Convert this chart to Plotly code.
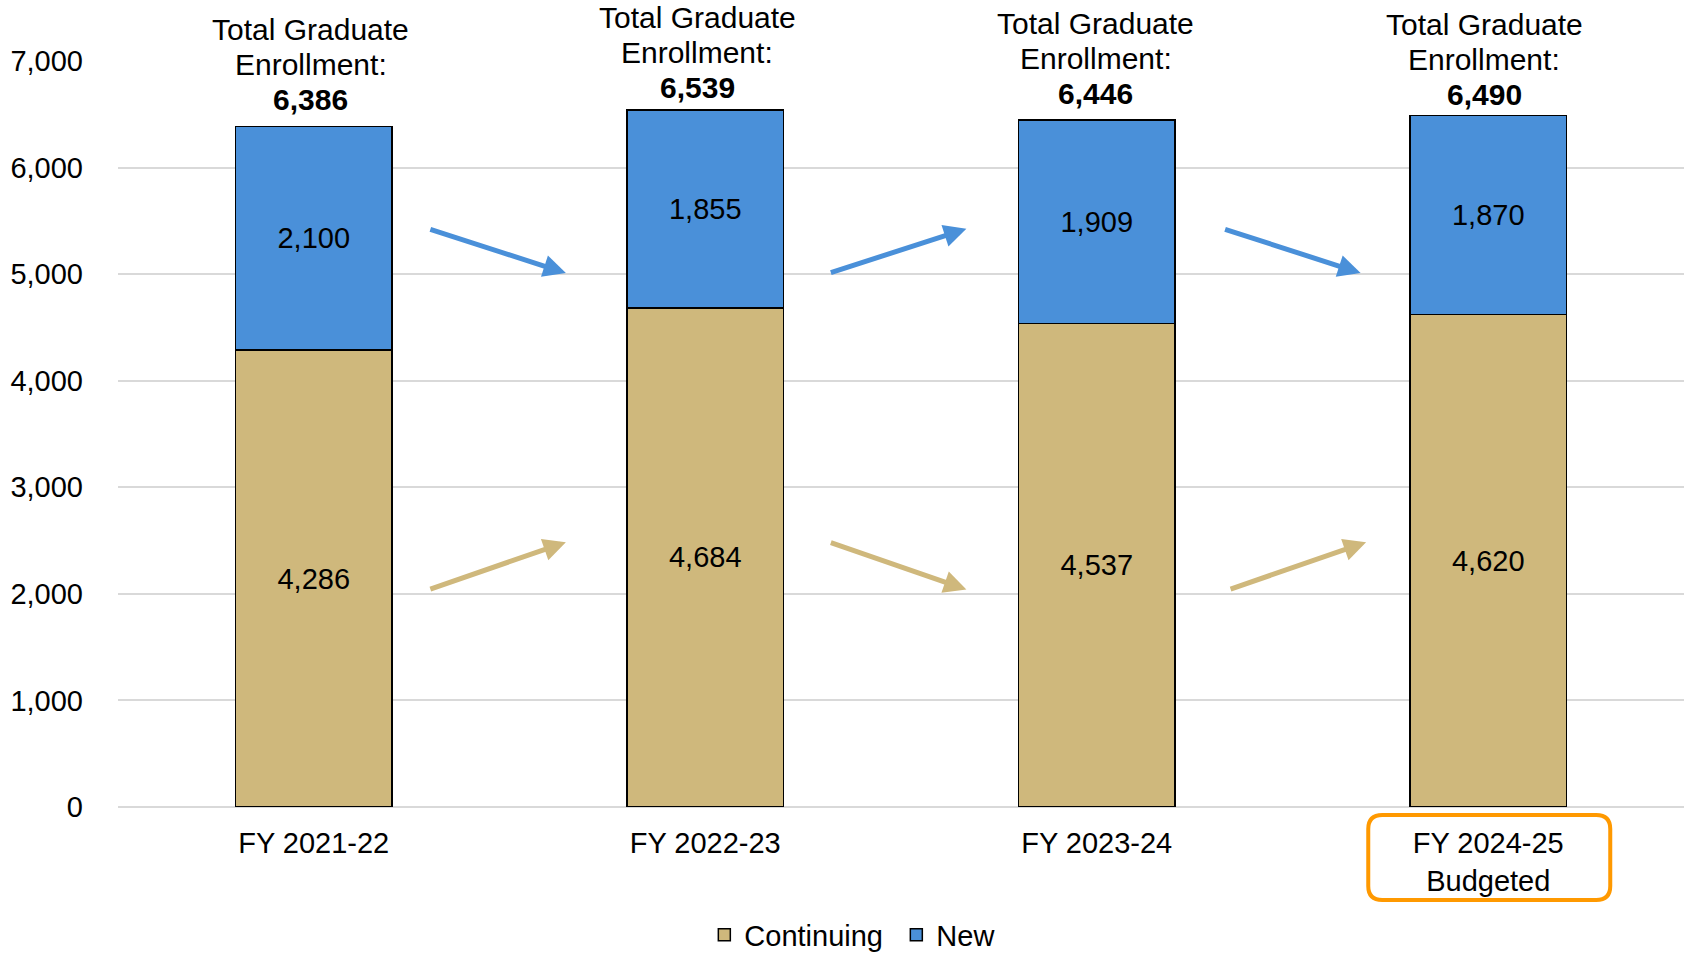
import plotly.graph_objects as go

# Graduate enrollment by fiscal year
categories = ["FY 2021-22", "FY 2022-23", "FY 2023-24", "FY 2024-25<br>Budgeted"]
continuing = [4286, 4684, 4537, 4620]
new = [2100, 1855, 1909, 1870]
totals = [c + n for c, n in zip(continuing, new)]
y_ticks = [0, 1000, 2000, 3000, 4000, 5000, 6000, 7000]

GOLD = "#CFB87C"
BLUE = "#4A90D9"
ORANGE = "#FF9900"
FONT = "Liberation Sans, Arial, Helvetica, sans-serif"
FS = 29      # tick, legend and in-bar labels
FS_TOT = 30  # total labels above the bars

xpos = list(range(len(categories)))

fig = go.Figure()
fig.add_trace(go.Bar(
    name="Continuing", x=xpos, y=continuing, width=0.4,
    marker=dict(color=GOLD, line=dict(color="#000000", width=1.5)),
    text=[f"{v:,}" for v in continuing], textposition="inside",
    insidetextanchor="middle", constraintext="none",
    textfont=dict(size=FS, color="#000000", family=FONT),
))
fig.add_trace(go.Bar(
    name="New", x=xpos, y=new, width=0.4,
    marker=dict(color=BLUE, line=dict(color="#000000", width=1.5)),
    text=[f"{v:,}" for v in new], textposition="inside",
    insidetextanchor="middle", constraintext="none",
    textfont=dict(size=FS, color="#000000", family=FONT),
))

annotations = []
# total labels above each stacked bar, one line at a time for tight spacing
LINE_STEP = 35
label_lift = [27, 23, 27, 21]   # gap between bar top and the bold total
label_nudge = [-3, -8, -1, -4]  # horizontal nudge of each label block
for i, t in enumerate(totals):
    lines = ["Total Graduate", "Enrollment:", f"<b>{t:,}</b>"]
    for k, text in enumerate(lines):
        annotations.append(dict(
            x=i, y=t, xref="x", yref="y", yanchor="middle",
            yshift=label_lift[i] + LINE_STEP * (2 - k), xshift=label_nudge[i],
            text=text, showarrow=False,
            font=dict(size=FS_TOT, color="#000000", family=FONT),
        ))

# trend arrows between neighbouring bars (direction follows the change)
ARROW_LEN = 0.35
arrow_specs = [
    (new, BLUE, (5010, 5425), [0.294, 0.317, 0.324]),
    (continuing, GOLD, (2040, 2485), [0.294, 0.317, 0.338]),
]
for series, color, (lo, hi), starts in arrow_specs:
    for i in range(len(series) - 1):
        rising = series[i + 1] > series[i]
        y_tail, y_head = (lo, hi) if rising else (hi, lo)
        x_tail = i + starts[i]
        annotations.append(dict(
            x=x_tail + ARROW_LEN, y=y_head, ax=x_tail, ay=y_tail,
            xref="x", yref="y", axref="x", ayref="y",
            text="", showarrow=True, arrowhead=2, arrowsize=0.9,
            arrowwidth=5, arrowcolor=color, standoff=0,
        ))

# rounded outline around the budgeted year label
x0, x1, yt, yb, r = -120, 122, -8, -93, 14
box_path = (
    f"M{x0 + r},{yt} L{x1 - r},{yt} Q{x1},{yt} {x1},{yt - r} "
    f"L{x1},{yb + r} Q{x1},{yb} {x1 - r},{yb} "
    f"L{x0 + r},{yb} Q{x0},{yb} {x0},{yb + r} "
    f"L{x0},{yt - r} Q{x0},{yt} {x0 + r},{yt} Z"
)
shapes = [dict(
    type="path", xref="paper", yref="paper",
    xsizemode="pixel", ysizemode="pixel",
    xanchor=(3 + 0.5) / 4, yanchor=0, path=box_path,
    line=dict(color=ORANGE, width=4), fillcolor="rgba(0,0,0,0)",
)]

fig.update_layout(
    barmode="stack",
    width=1688, height=953,
    margin=dict(l=118, r=4, t=61, b=146),
    paper_bgcolor="#FFFFFF", plot_bgcolor="#FFFFFF",
    font=dict(family=FONT, size=FS, color="#000000"),
    showlegend=True,
    legend=dict(
        orientation="h", xref="container", x=0.531, xanchor="center",
        yref="container", y=0.019, yanchor="middle", traceorder="normal",
        font=dict(size=FS, color="#000000", family=FONT),
        itemwidth=30, tracegroupgap=0, entrywidth=147,
    ),
    annotations=annotations,
    shapes=shapes,
)
fig.update_xaxes(
    tickmode="array", tickvals=xpos, ticktext=categories,
    range=[-0.5, 3.5], showgrid=False, zeroline=False, showline=False,
    ticks="", ticklabelstandoff=16,
    tickfont=dict(size=FS, color="#000000", family=FONT),
)
fig.update_yaxes(
    range=[0, 7000], tickvals=y_ticks, tickformat=",d",
    showgrid=True, gridcolor="#D9D9D9", gridwidth=2,
    zeroline=True, zerolinecolor="#D9D9D9", zerolinewidth=2,
    showline=False, ticks="", ticklabelstandoff=34,
    tickfont=dict(size=FS, color="#000000", family=FONT),
)

fig.write_html("out.html")
